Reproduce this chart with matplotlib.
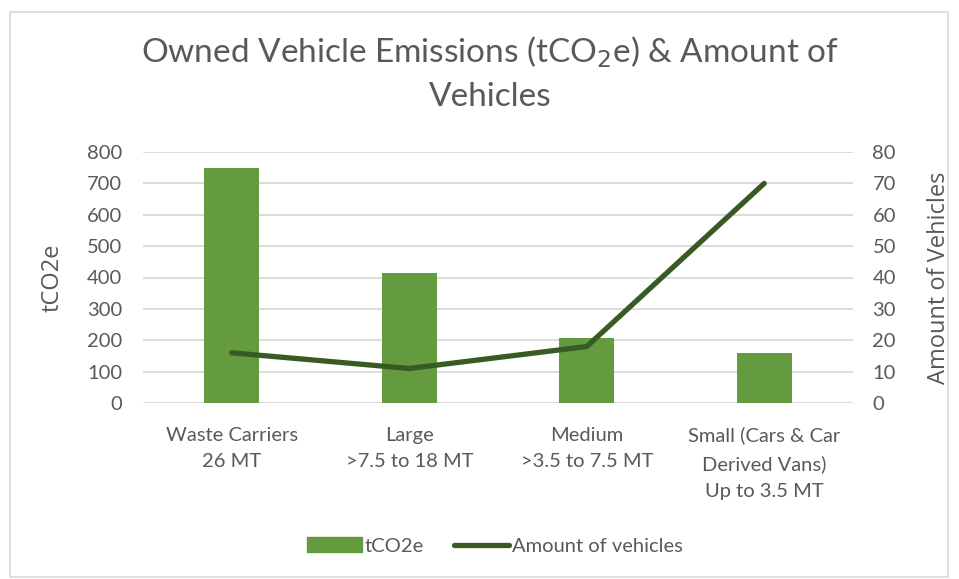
import matplotlib
matplotlib.use("Agg")
import matplotlib.pyplot as plt
from matplotlib.patches import Rectangle
from matplotlib.lines import Line2D
import numpy as np

categories = ["Waste Carriers\n26 MT", "Large\n>7.5 to 18 MT", "Medium\n>3.5 to 7.5 MT",
              "Small (Cars & Car\nDerived Vans)\nUp to 3.5 MT"]
tco2e = [748, 413, 207, 159]
vehicles = [16, 11, 18, 70]
left_ticks = [0, 100, 200, 300, 400, 500, 600, 700, 800]
right_ticks = [0, 10, 20, 30, 40, 50, 60, 70, 80]

BAR = "#639B3E"
LINE = "#3A5A24"
TXT = "#595959"
GRID = "#D9D9D9"
FONT = "Lato"
FS = 14.5

fig = plt.figure(figsize=(9.59, 5.79), dpi=100)
fig.patches.append(Rectangle((10/959, 2/579), 938/959, 565/579, transform=fig.transFigure,
                             fill=False, edgecolor="#D9D9D9", lw=1.2))

ax = fig.add_axes([143/959, 176/579, 710/959, 251/579])
x = np.arange(len(categories))
ax.bar(x, tco2e, width=0.31, color=BAR, zorder=2)
ax.set_xlim(-0.5, len(categories) - 0.5)
ax.set_ylim(0, 800)
ax.set_yticks(left_ticks)
ax.set_yticklabels([str(t) for t in left_ticks], fontsize=FS, color=TXT, family=FONT)
ax.set_xticks(x)
ax.set_xticklabels(categories, fontsize=FS, color=TXT, family=FONT, linespacing=1.7)
ax.tick_params(axis="both", length=0)
ax.tick_params(axis="y", pad=15)
ax.tick_params(axis="x", pad=17)
ax.grid(axis="y", color=GRID, lw=1.3, zorder=0)
for s in ax.spines.values():
    s.set_visible(False)
ax.set_ylabel("tCO2e", fontsize=17, color=TXT, family="Open Sans", fontweight="medium")
ax.yaxis.set_label_coords(-0.111, 0.5)

ax2 = ax.twinx()
ax2.plot(x, vehicles, color=LINE, lw=3.8, solid_capstyle="round", solid_joinstyle="round", zorder=3)
ax2.set_ylim(0, 80)
ax2.set_yticks(right_ticks)
ax2.set_yticklabels([str(t) for t in right_ticks], fontsize=FS, color=TXT, family=FONT)
ax2.tick_params(axis="y", length=0, pad=14)
for s in ax2.spines.values():
    s.set_visible(False)
ax2.set_ylabel("Amount of Vehicles", fontsize=17, color=TXT, family="Open Sans", fontweight="medium")
ax2.yaxis.set_label_coords(1.104, 0.5)

fig.text(490/959, 1 - 52/579, "Owned Vehicle Emissions (tCO$_2$e) & Amount of", ha="center", va="center",
         fontsize=24, color=TXT, family=FONT)
fig.text(490/959, 1 - 97/579, "Vehicles", ha="center", va="center",
         fontsize=24, color=TXT, family=FONT)

handles = [Rectangle((0, 0), 1, 1, color=BAR), Line2D([0], [0], color=LINE, lw=3.8, solid_capstyle="round")]
leg = fig.legend(handles, ["tCO2e", "Amount of vehicles"], loc="center", bbox_to_anchor=(495/959, 1 - 546/579),
                 ncol=2, frameon=False, prop={"family": FONT, "size": FS}, handlelength=2.7,
                 handletextpad=0.15, columnspacing=1.5)
for t in leg.get_texts():
    t.set_color(TXT)

fig.savefig("out.png", dpi=100)
